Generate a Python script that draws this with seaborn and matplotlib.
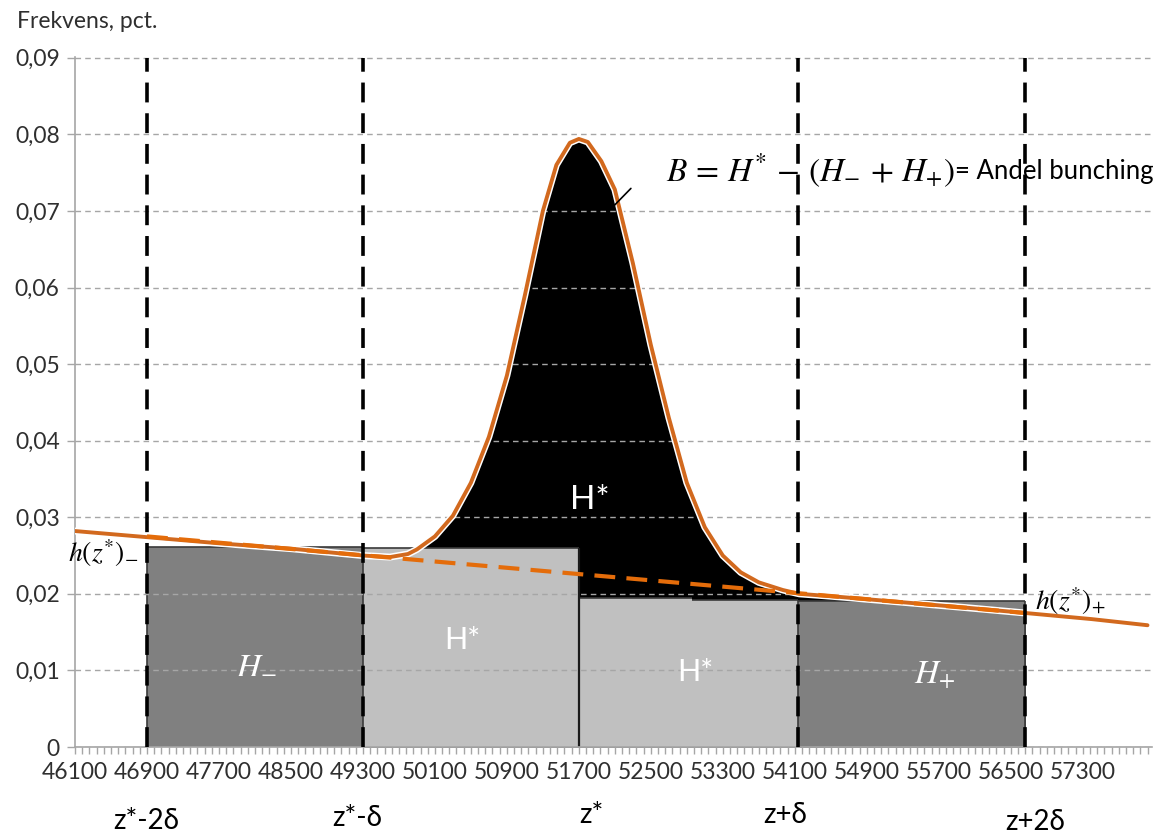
import numpy as np
import matplotlib
matplotlib.use('Agg')
import matplotlib.pyplot as plt
import matplotlib.transforms as mtransforms
from matplotlib.ticker import FuncFormatter
import seaborn as sns

curve_x = [46100, 46900, 47700, 48500, 49300, 49600, 49800, 49900, 50100, 50300,
           50500, 50700, 50900, 51100, 51300, 51450, 51600, 51700, 51800, 51950,
           52100, 52300, 52500, 52700, 52900, 53100, 53300, 53500, 53700, 53967,
           54150, 54600, 55400, 56000, 56660, 57400, 58020]
curve_y = [0.0282, 0.0274, 0.0266, 0.0259, 0.0250, 0.0248, 0.0252, 0.0258, 0.0275, 0.0302,
           0.0345, 0.0405, 0.0485, 0.0590, 0.0700, 0.0760, 0.0789, 0.0794, 0.0790, 0.0765,
           0.0728, 0.0632, 0.0525, 0.0430, 0.0345, 0.0287, 0.0250, 0.0228, 0.0215, 0.0205,
           0.0200, 0.0196, 0.0188, 0.0182, 0.0175, 0.0167, 0.0159]

# counterfactual (dashed orange)
cf_x = [46900, 56660]
cf_y = [0.0275, 0.0175]

# bins under the curve
bin_left = [46900, 49300, 51700, 52955, 54140]
bin_right = [49300, 51700, 52955, 54140, 56660]
bin_height = [0.0261, 0.0260, 0.0194, 0.0192, 0.0191]
bin_shade = ['dark', 'light', 'light', 'light', 'dark']

# band limits and their names
edge_x = [46900, 49300, 51700, 54140, 56660]
edge_names = ['z*-2δ', 'z*-δ', 'z*', 'z+δ', 'z+2δ']

y_ticks = [0, 0.01, 0.02, 0.03, 0.04, 0.05, 0.06, 0.07, 0.08, 0.09]
x_labels = list(range(46100, 57301, 800))

sns.set_theme(style='white')
plt.rcParams['font.family'] = ['Lato', 'DejaVu Sans']
plt.rcParams['mathtext.fontset'] = 'stix'

fig = plt.figure(figsize=(11.6, 8.34), dpi=100)
ax = fig.add_axes([75 / 1160, 87 / 834, 1077 / 1160, 690 / 834])

shades = {'dark': '#808080', 'light': '#c0c0c0'}

# black bunching mass under the curve
cx = np.array(curve_x)
cy = np.array(curve_y)
m = (cx >= 49300) & (cx <= 56660)
ax.fill_between(cx[m], 0, cy[m], color='black', lw=0, zorder=1)

# bins
ax.bar(bin_left, bin_height, width=np.subtract(bin_right, bin_left), align='edge',
       color=[shades[s] for s in bin_shade], linewidth=0, zorder=2)
ax.hlines(bin_height, bin_left, bin_right, color='#3a3a3a', lw=1.2, zorder=2.2)
ax.vlines([46900, 49300, 54140, 56660], 0, [0.0261, 0.0261, 0.0192, 0.0191],
          color='#3a3a3a', lw=1.2, zorder=2.2)
ax.vlines(51700, 0, 0.0260, color='#1a1a1a', lw=1.6, zorder=2.2)

# curves
sns.lineplot(x=curve_x, y=curve_y, color='white', lw=5, ax=ax, zorder=3)
sns.lineplot(x=curve_x, y=curve_y, color='#d2691e', lw=2.8, ax=ax, zorder=3.1)
ax.plot(cf_x, cf_y, color='#e46c0a', lw=3, linestyle=(0, (5, 2.7)), zorder=3.2)

# band limits
ax.vlines([e for e in edge_x if e != 51700], 0, 0.09, color='black', lw=2.6,
          linestyle=(0, (5.5, 3)), zorder=4)

# axes
ax.set_xlim(46100, 58070)
ax.set_ylim(0, 0.0901)
ax.set_axisbelow(False)
ax.yaxis.grid(True, color='#a6a6a6', linestyle=(0, (4, 3)), lw=1)
ax.xaxis.grid(False)
for s in ['top', 'right']:
    ax.spines[s].set_visible(False)
for s in ['left', 'bottom']:
    ax.spines[s].set_color('#a6a6a6')
    ax.spines[s].set_linewidth(1.2)

ax.set_yticks(y_ticks)
ax.yaxis.set_major_formatter(FuncFormatter(
    lambda v, p: '0' if v == 0 else f'{v:.2f}'.replace('.', ',')))
ax.set_xticks(x_labels)
ax.set_xticklabels([str(v) for v in x_labels])
ax.set_xticks(np.arange(46100, 58070, 80), minor=True)
ax.tick_params(axis='y', length=6, width=1, color='#a6a6a6', labelsize=16.5,
               labelcolor='#2f2f2f', pad=5, left=True)
ax.tick_params(axis='x', which='both', length=5, width=1, color='#a6a6a6',
               labelsize=16.5, labelcolor='#2f2f2f', pad=6, bottom=True)
ax.set_xlabel('')
ax.set_ylabel('')

fig.text(17 / 1160, 1 - 22 / 834, 'Frekvens, pct.', fontsize=16.5, color='#2f2f2f',
         va='center', ha='left')

# band names under the axis
tr = mtransforms.blended_transform_factory(ax.transData, ax.transAxes)
name_x = [46890, 49240, 51840, 53990, 56770]
name_y = [-0.107, -0.103, -0.099, -0.099, -0.109]
for x, y, t in zip(name_x, name_y, edge_names):
    ax.text(x, y, t, transform=tr, ha='center', va='center', fontsize=20,
            color='black')

# area labels
ax.text(51820, 0.0322, 'H*', color='white', fontsize=24, ha='center', va='center', zorder=5)
ax.text(50400, 0.0140, 'H*', color='white', fontsize=22, ha='center', va='center', zorder=5)
ax.text(52990, 0.0098, 'H*', color='white', fontsize=22, ha='center', va='center', zorder=5)
ax.text(48120, 0.0108, r'$H_{-}$', color='white', fontsize=24, ha='center', va='center', zorder=5)
ax.text(55650, 0.0094, r'$H_{+}$', color='white', fontsize=24, ha='center', va='center', zorder=5)
ax.text(46020, 0.0253, r'$h(z^{*})_{-}$', color='black', fontsize=20, ha='left',
        va='center', clip_on=False, zorder=5)
ax.text(56770, 0.0190, r'$h(z^{*})_{+}$', color='black', fontsize=20, ha='left',
        va='center', clip_on=False, zorder=5)

# bunching annotation
ax.annotate('', xy=(52067, 0.0704), xytext=(52300, 0.0732),
            arrowprops=dict(arrowstyle='-', color='black', lw=1.2), zorder=5)
ax.text(55880, 0.0752, r'$B\,=\,H^{*}\,-\,(H_{-}\,+\,H_{+})$', fontsize=24, ha='right',
        va='center', color='black', zorder=5)
ax.text(55880, 0.0752, '= Andel bunching', fontsize=18.5, ha='left', va='center',
        color='black', zorder=5, clip_on=False)

fig.savefig('out.png', dpi=100)
